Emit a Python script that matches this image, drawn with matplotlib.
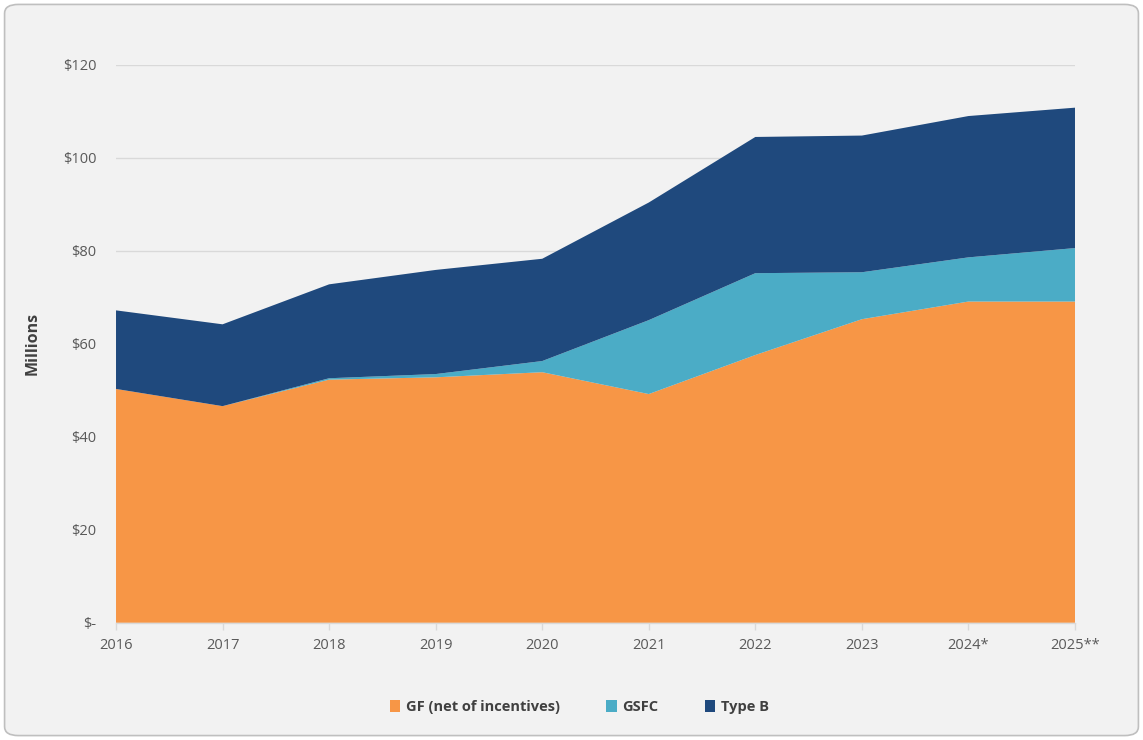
import matplotlib
matplotlib.use("Agg")
import matplotlib.pyplot as plt
from matplotlib.patches import FancyBboxPatch, Patch
from matplotlib.ticker import FuncFormatter

# Funding by source, $ millions
years = ["2016", "2017", "2018", "2019", "2020", "2021", "2022", "2023", "2024*", "2025**"]
gf_net = [50.3, 46.6, 52.3, 52.8, 53.9, 49.2, 57.6, 65.3, 69.1, 69.1]
gsfc = [0.0, 0.0, 0.3, 0.7, 2.4, 15.9, 17.6, 10.1, 9.5, 11.5]
type_b = [16.9, 17.6, 20.2, 22.4, 22.0, 25.3, 29.3, 29.4, 30.4, 30.2]
series_names = ["GF (net of incentives)", "GSFC", "Type B"]
colors = ["#F79646", "#4BACC6", "#1F497D"]
y_ticks = [0, 20, 40, 60, 80, 100, 120]

plt.rcParams["font.family"] = ["Open Sans", "DejaVu Sans"]

fig = plt.figure(figsize=(11.43, 7.40), dpi=100)
fig.patch.set_facecolor("white")

# rounded panel behind the chart
panel = FancyBboxPatch((0.004, 0.006), 0.992, 0.988,
                       boxstyle="round,pad=0,rounding_size=0.012",
                       transform=fig.transFigure, facecolor="#F2F2F2",
                       edgecolor="#BFBFBF", linewidth=1.2, zorder=-5)
fig.patches.append(panel)

ax = fig.add_axes([0.1015, 0.1584, 0.839, 0.7539])
ax.set_zorder(2)
ax.set_facecolor("none")

x = list(range(len(years)))
ax.stackplot(x, gf_net, gsfc, type_b, colors=colors, labels=series_names,
             linewidth=0, zorder=2)

ax.set_xlim(0, len(years) - 1)
ax.set_ylim(0, 120)
ax.set_yticks(y_ticks)
ax.yaxis.set_major_formatter(FuncFormatter(lambda v, p: "$-" if v == 0 else f"${v:.0f}"))
ax.set_xticks(x)
ax.set_xticklabels(years)

ax.grid(axis="y", color="#D9D9D9", linewidth=1.0, zorder=0)
ax.set_axisbelow(True)
for side in ["top", "right", "left"]:
    ax.spines[side].set_visible(False)
ax.spines["bottom"].set_color("#D9D9D9")
ax.spines["bottom"].set_linewidth(1.0)
ax.spines["bottom"].set_zorder(3)

ax.tick_params(axis="y", length=0, pad=14, labelsize=10.5, labelcolor="#595959")
ax.tick_params(axis="x", length=5, width=1, color="#D9D9D9", pad=6,
               labelsize=10.5, labelcolor="#595959")

ax.set_ylabel("Millions", fontsize=11.5, fontweight="bold", color="#404040", labelpad=16)

handles = [Patch(facecolor=c, edgecolor="none") for c in colors]
leg = fig.legend(handles, series_names, loc="center", bbox_to_anchor=(0.507, 0.045),
                 ncol=3, frameon=False, handlelength=0.7, handleheight=0.9,
                 handletextpad=0.4, columnspacing=3.2,
                 prop={"weight": "bold", "size": 10.5})
for t in leg.get_texts():
    t.set_color("#404040")

fig.savefig("out.png", dpi=100, facecolor=fig.get_facecolor())
